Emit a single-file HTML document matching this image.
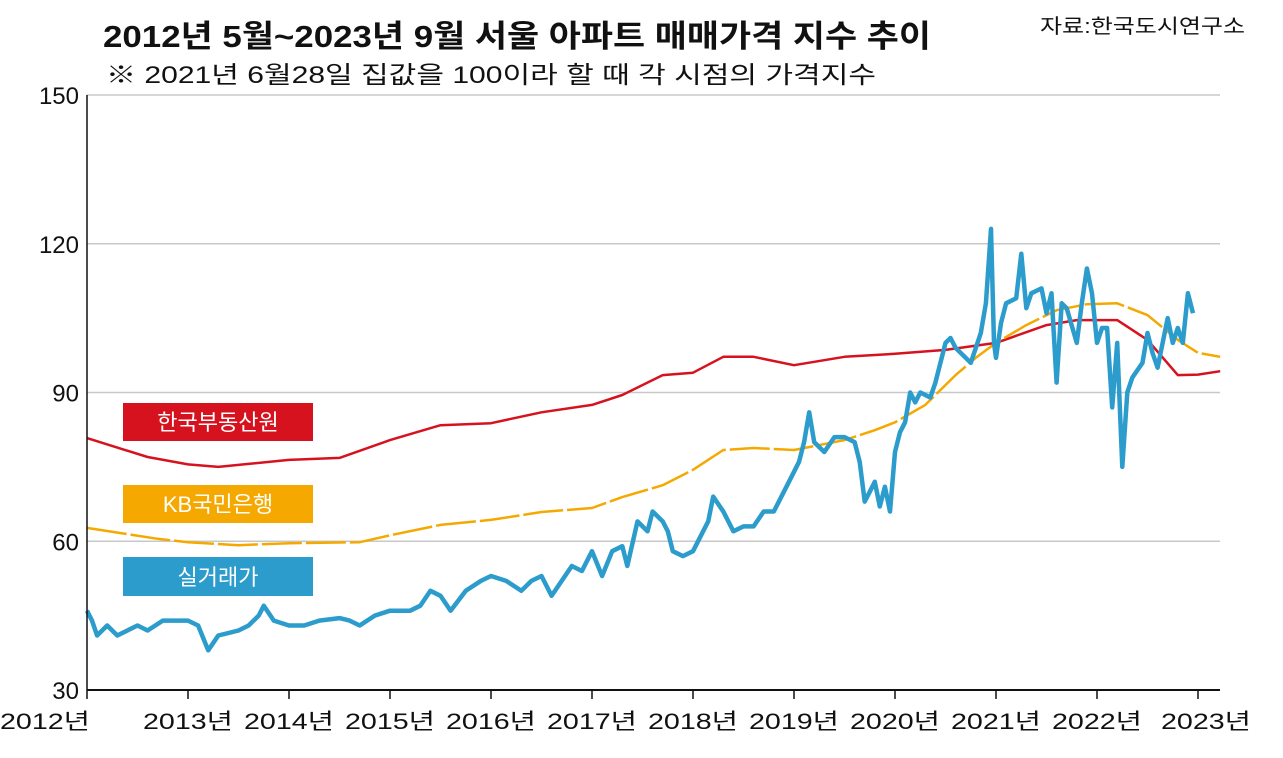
<!DOCTYPE html>
<html><head><meta charset="utf-8"><style>
html,body{margin:0;padding:0;background:#fff;}
svg text{font-family:"Liberation Sans","Noto Sans CJK KR",sans-serif;}
</style></head><body>
<svg id="chart" width="1283" height="753" viewBox="0 0 1283 753" xmlns="http://www.w3.org/2000/svg">
<text x="103" y="47" font-size="31" font-weight="bold" textLength="828" lengthAdjust="spacingAndGlyphs" fill="#111">2012년 5월~2023년 9월 서울 아파트 매매가격 지수 추이</text>
<text x="106" y="83" font-size="24" textLength="770" lengthAdjust="spacingAndGlyphs" fill="#111">※ 2021년 6월28일 집값을 100이라 할 때 각 시점의 가격지수</text>
<text x="1040" y="33" font-size="20" textLength="205" lengthAdjust="spacingAndGlyphs" fill="#111">자료:한국도시연구소</text>
<g id="grid"></g>
<g id="series"></g>
<g id="axes"></g>
<g>
<rect x="123" y="403" width="190" height="38" fill="#d7121f"/>
<text x="218" y="430" font-size="22" fill="#fff" text-anchor="middle">한국부동산원</text>
<rect x="123" y="485" width="190" height="38" fill="#f5a900"/>
<text x="218" y="512" font-size="22" fill="#fff" text-anchor="middle">KB국민은행</text>
<rect x="123" y="557" width="190" height="39" fill="#2b9ccb"/>
<text x="218" y="585" font-size="22" fill="#fff" text-anchor="middle">실거래가</text>
</g>
</svg>
<script>
const yTicks=[30,60,90,120,150];
const xTickYears=[2012,2013,2014,2015,2016,2017,2018,2019,2020,2021,2022,2023];
const rebYears=[2012,2012.6,2013,2013.3,2013.6,2014,2014.5,2015,2015.5,2016,2016.5,2017,2017.3,2017.7,2018,2018.3,2018.6,2019,2019.5,2020,2020.5,2021,2021.5,2021.8,2022.2,2022.5,2022.8,2023,2023.22];
const rebVals=[80.8,77,75.5,75,75.6,76.4,76.8,80.4,83.4,83.8,86,87.5,89.5,93.5,94,97.2,97.2,95.5,97.2,97.8,98.6,100,103.6,104.6,104.6,100.6,93.5,93.6,94.3];
const kbYears=[2012,2012.7,2013,2013.5,2014,2014.7,2015,2015.5,2016,2016.5,2017,2017.3,2017.7,2018,2018.3,2018.6,2019,2019.5,2019.8,2020,2020.3,2020.6,2020.8,2021,2021.3,2021.6,2021.9,2022.2,2022.5,2022.8,2023,2023.22];
const kbVals=[62.7,60.5,59.8,59.2,59.6,59.8,61.2,63.3,64.3,65.9,66.7,68.9,71.3,74.4,78.4,78.8,78.4,80.4,82.4,84,87.5,93.5,97,100,103.6,106.6,107.8,108,105.6,100.6,98,97.2];
const actYears=[2012,2012.05,2012.1,2012.2,2012.3,2012.4,2012.5,2012.6,2012.75,2012.9,2013,2013.1,2013.2,2013.3,2013.5,2013.6,2013.7,2013.75,2013.85,2014,2014.15,2014.3,2014.5,2014.6,2014.7,2014.85,2015,2015.2,2015.3,2015.4,2015.5,2015.6,2015.75,2015.9,2016,2016.15,2016.3,2016.4,2016.5,2016.6,2016.8,2016.9,2017,2017.1,2017.2,2017.3,2017.35,2017.45,2017.55,2017.6,2017.7,2017.75,2017.8,2017.9,2018,2018.1,2018.15,2018.2,2018.3,2018.4,2018.5,2018.6,2018.7,2018.8,2018.9,2019,2019.05,2019.1,2019.15,2019.2,2019.3,2019.4,2019.5,2019.6,2019.65,2019.7,2019.75,2019.8,2019.85,2019.9,2019.95,2020,2020.05,2020.1,2020.15,2020.2,2020.25,2020.35,2020.4,2020.5,2020.55,2020.6,2020.7,2020.75,2020.8,2020.85,2020.9,2020.95,2020.98,2021,2021.05,2021.1,2021.2,2021.25,2021.3,2021.35,2021.45,2021.5,2021.55,2021.6,2021.65,2021.7,2021.8,2021.85,2021.9,2021.95,2022,2022.05,2022.1,2022.15,2022.2,2022.25,2022.3,2022.35,2022.45,2022.5,2022.55,2022.6,2022.7,2022.75,2022.8,2022.85,2022.9,2022.95,2023,2023.03];
const actVals=[46,44,41,43,41,42,43,42,44,44,44,43,38,41,42,43,45,47,44,43,43,44,44.5,44,43,45,46,46,47,50,49,46,50,52,53,52,50,52,53,49,55,54,58,53,58,59,55,64,62,66,64,62,58,57,58,62,64,69,66,62,63,63,66,66,70,74,76,80,86,80,78,81,81,80,76,68,70,72,67,71,66,78,82,84,90,88,90,89,92,100,101,99,97,96,99,102,108,123,100,97,104,108,109,118,107,110,111,106,110,92,108,107,100,108,115,110,100,103,103,87,100,75,90,93,96,102,98,95,105,100,103,100,110,106];
const NS="http://www.w3.org/2000/svg";
const X0=87,X1=1198,Y0=690,Y1=95;
function xs(t){return X0+(t-2012)*(X1-X0)/11;}
function ys(v){return Y0-(v-30)*(Y0-Y1)/120;}
const grid=document.getElementById('grid'),axes=document.getElementById('axes'),ser=document.getElementById('series');
yTicks.forEach(v=>{
 if(v>30){const l=document.createElementNS(NS,'line');
 
 
 l.setAttribute('x1',X0);l.setAttribute('x2',1220);l.setAttribute('y1',ys(v));l.setAttribute('y2',ys(v));
 l.setAttribute('stroke','#c8c8c8');l.setAttribute('stroke-width','1.5');grid.appendChild(l);}
 const t=document.createElementNS(NS,'text');
 
 
 t.setAttribute('x',79);t.setAttribute('y',ys(v)+9);t.setAttribute('text-anchor','end');t.setAttribute('font-size','24');t.setAttribute('fill','#111');
 t.textContent=v;axes.appendChild(t);
});
function line(name,x1,y1,x2,y2,w){const l=document.createElementNS(NS,'line');
 
 
 l.setAttribute('x1',x1);l.setAttribute('y1',y1);l.setAttribute('x2',x2);l.setAttribute('y2',y2);l.setAttribute('stroke','#111');l.setAttribute('stroke-width',w);axes.appendChild(l);}
line('y-axis',X0,Y1,X0,Y0,1.5);
line('x-axis',X0,Y0,1220,Y0,2);
xTickYears.forEach(y=>{
 line('x-tick',xs(y),Y0,xs(y),Y0+9,1.5);
 const t=document.createElementNS(NS,'text');
 
 
 let cx=xs(y);if(y===2012)cx=45;if(y===2023)cx=1206;
 t.setAttribute('x',cx);t.setAttribute('y',729);t.setAttribute('text-anchor','middle');t.setAttribute('font-size','22');t.setAttribute('fill','#111');
 t.setAttribute('textLength','90');t.setAttribute('lengthAdjust','spacingAndGlyphs');
 t.textContent=y+'년';axes.appendChild(t);
});
function path(name,xa,va,color,w,dash){
 const p=document.createElementNS(NS,'path');
 
 
 p.setAttribute('d',xa.map((x,i)=>(i?'L':'M')+xs(x).toFixed(1)+' '+ys(va[i]).toFixed(1)).join(''));
 p.setAttribute('fill','none');p.setAttribute('stroke',color);p.setAttribute('stroke-width',w);p.setAttribute('stroke-linejoin','round');
 if(dash)p.setAttribute('stroke-dasharray',dash);
 ser.appendChild(p);}
path('series-reb',rebYears,rebVals,'#d7121f',2.5);
path('series-kb',kbYears,kbVals,'#f5a900',2.5,'40 4');
path('series-actual',actYears,actVals,'#2b9ccb',4.5);
</script>
</body></html>
